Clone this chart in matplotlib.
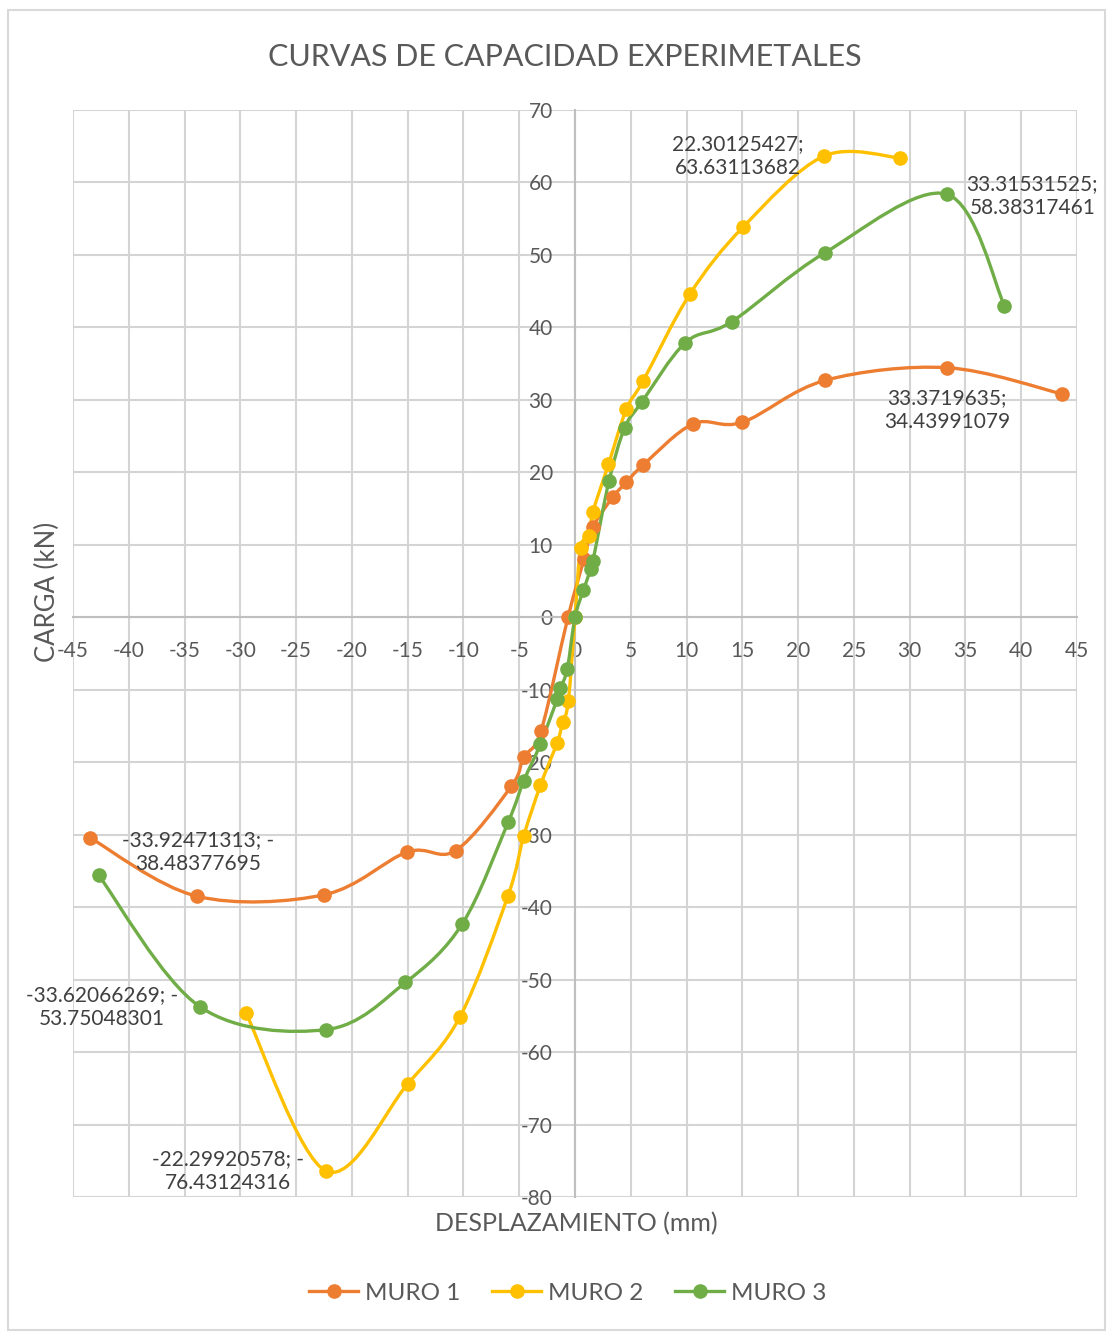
import numpy as np
import matplotlib
matplotlib.use("Agg")
import matplotlib.pyplot as plt
from matplotlib.path import Path
from matplotlib.patches import PathPatch, Rectangle
from matplotlib.lines import Line2D

plt.rcParams['font.family'] = ['Lato', 'DejaVu Sans']

# ---------------- data ----------------
muro1_x = [-43.5, -33.92471313, -22.5, -15.05, -10.7, -5.7, -4.6, -3.05, -0.63,
           0.8, 1.6, 3.4, 4.6, 6.1, 10.6, 15.0, 22.44, 33.3719635, 43.7]
muro1_y = [-30.4, -38.48377695, -38.3, -32.4, -32.2, -23.3, -19.3, -15.7, 0.0,
           8.0, 12.4, 16.6, 18.6, 21.0, 26.7, 26.9, 32.7, 34.43991079, 30.8]

muro2_x = [-29.5, -22.29920578, -15.0, -10.3, -6.0, -4.6, -3.1, -1.6, -1.1, -0.6,
           0.0, 0.5, 1.25, 1.6, 3.0, 4.6, 6.1, 10.3, 15.1, 22.30125427, 29.1]
muro2_y = [-54.6, -76.43124316, -64.4, -55.1, -38.4, -30.2, -23.2, -17.3, -14.5, -11.6,
           0.0, 9.6, 11.2, 14.5, 21.1, 28.7, 32.6, 44.6, 53.9, 63.63113682, 63.4]

muro3_x = [-42.7, -33.62066269, -22.3, -15.2, -10.1, -6.0, -4.6, -3.1, -1.6, -1.3, -0.7,
           0.0, 0.75, 1.4, 1.6, 3.05, 4.44, 5.97, 9.9, 14.06, 22.4, 33.31531525, 38.5]
muro3_y = [-35.6, -53.75048301, -56.9, -50.4, -42.3, -28.3, -22.6, -17.5, -11.3, -9.7, -7.2,
           0.0, 3.7, 6.6, 7.7, 18.8, 26.1, 29.65, 37.9, 40.8, 50.3, 58.38317461, 43.0]

series_names = ['MURO 1', 'MURO 2', 'MURO 3']
series_colors = ['#ED7D31', '#FFC000', '#70AD47']

x_ticks = list(range(-45, 50, 5))
y_ticks = list(range(-80, 80, 10))

title = 'CURVAS DE CAPACIDAD EXPERIMETALES'
x_label = 'DESPLAZAMIENTO (mm)'
y_label = 'CARGA (kN)'

# data labels: (x, y, text, offset_px, ha, va)
label_pts = [
    (22.30125427, 63.63113682, '22.30125427;\n63.63113682', (-20, 0), 'right', 'center'),
    (33.31531525, 58.38317461, '33.31531525;\n58.38317461', (20, -2), 'left', 'center'),
    (33.3719635, 34.43991079, '33.3719635;\n34.43991079', (0, -20), 'center', 'top'),
    (-33.92471313, -38.48377695, '-33.92471313; -\n38.48377695', (2, 22), 'center', 'bottom'),
    (-33.62066269, -53.75048301, '-33.62066269; -\n53.75048301', (-22, 0), 'right', 'center'),
    (-22.29920578, -76.43124316, '-22.29920578; -\n76.43124316', (-22, 0), 'right', 'center'),
]

# ---------------- helpers ----------------
def smooth_path(xs, ys):
    p = np.column_stack([xs, ys]).astype(float)
    n = len(p)
    verts = [p[0]]
    codes = [Path.MOVETO]
    for i in range(n - 1):
        p0 = p[i - 1] if i > 0 else p[i]
        p1 = p[i]
        p2 = p[i + 1]
        p3 = p[i + 2] if i + 2 < n else p[i + 1]
        c1 = p1 + (p2 - p0) / 6.0
        c2 = p2 - (p3 - p1) / 6.0
        verts += [c1, c2, p2]
        codes += [Path.CURVE4] * 3
    return Path(verts, codes)

# ---------------- figure ----------------
W, H = 1112, 1333
fig = plt.figure(figsize=(W / 100, H / 100), dpi=100)
fig.patch.set_facecolor('white')
fig.add_artist(Rectangle((8 / W, 3 / H), (1105 - 8) / W, (1323 - 3) / H,
                         transform=fig.transFigure, fill=False,
                         edgecolor='#D9D9D9', lw=1.5))

ax = fig.add_axes([73 / W, 1 - 1197 / H, (1077 - 73) / W, (1197 - 110) / H])
ax.set_xlim(-45, 45)
ax.set_ylim(-80, 70)
ax.set_xticks(x_ticks)
ax.set_yticks(y_ticks)
ax.set_xticklabels([str(t) for t in x_ticks])
ax.set_yticklabels([str(t) for t in y_ticks])

ax.grid(True, color='#D4D4D4', lw=1.5)
for gl in ax.get_xgridlines() + ax.get_ygridlines():
    gl.set_clip_on(False)

for s in ['top', 'right']:
    ax.spines[s].set_visible(False)
ax.spines['left'].set_position(('data', 0))
ax.spines['bottom'].set_position(('data', 0))
for s in ['left', 'bottom']:
    ax.spines[s].set_color('#BFBFBF')
    ax.spines[s].set_linewidth(1.5)
    ax.spines[s].set_zorder(1.6)

ax.tick_params(axis='x', length=0, pad=17, labelsize=15, labelcolor='#595959')
ax.tick_params(axis='y', length=0, pad=16, labelsize=15, labelcolor='#595959')

data = [(muro1_x, muro1_y), (muro2_x, muro2_y), (muro3_x, muro3_y)]
handles = []
for (xs, ys), name, col in zip(data, series_names, series_colors):
    patch = PathPatch(smooth_path(xs, ys), fill=False, edgecolor=col, lw=2.4,
                      zorder=2, capstyle='round', joinstyle='round')
    ax.add_patch(patch)
    ax.plot(xs, ys, 'o', color=col, ms=9.5, zorder=3, clip_on=False)
    handles.append(Line2D([], [], color=col, lw=2.4, marker='o', ms=9.5))

for x, y, txt, off, ha, va in label_pts:
    ax.annotate(txt, (x, y), xytext=(off[0] * 0.72, off[1] * 0.72),
                textcoords='offset points', ha=ha, va=va, multialignment='center',
                fontsize=15, color='#404040', linespacing=1.25, zorder=5)

fig.text(565 / W, 1 - 57 / H, title, ha='center', va='center',
         fontsize=22, color='#595959')
fig.text(576 / W, 1 - 1224 / H, x_label, ha='center', va='center',
         fontsize=18, color='#595959')
fig.text(47 / W, 1 - 592 / H, y_label, ha='center', va='center', rotation=90,
         fontsize=18.5, color='#595959')

fig.legend(handles, series_names, loc='center', bbox_to_anchor=(568 / W, 1 - 1293 / H),
           ncol=3, frameon=False, fontsize=17.5, handlelength=2.0, handletextpad=0.3,
           columnspacing=1.3, labelcolor='#595959')

fig.savefig('out.png', dpi=100)
